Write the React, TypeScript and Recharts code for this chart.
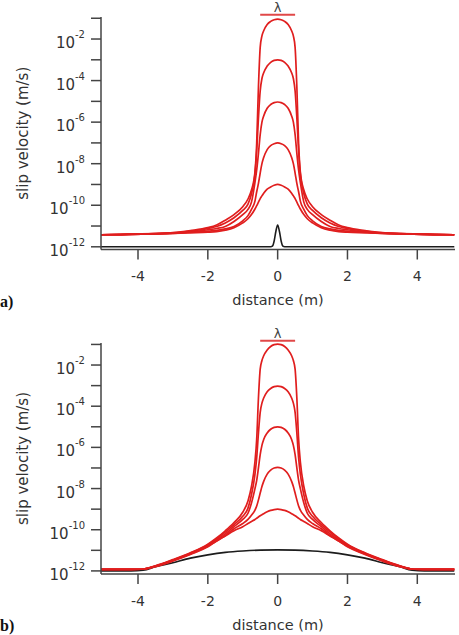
import React from 'react';
import { LineChart, Line, XAxis, YAxis, ReferenceLine } from 'recharts';

// half-profile distances (m); curves are symmetric about x = 0
const halfX = [0, 0.1, 0.2, 0.3, 0.4, 0.45, 0.5, 0.55, 0.6, 0.65, 0.75, 0.85, 1, 1.25, 1.5, 1.75, 2, 2.5, 3, 3.5, 3.9, 4.5, 5.06];

// panel (a): log10 of slip velocity (m/s)
const aRed1 = [-1.04, -1.07, -1.15, -1.3, -1.6, -1.85, -2.4, -4.3, -7.0, -8.4, -9.27, -9.7, -10.07, -10.45, -10.72, -10.95, -11.08, -11.22, -11.32, -11.36, -11.38, -11.4, -11.42];
const aRed2 = [-3.0, -3.03, -3.12, -3.3, -3.62, -3.9, -4.5, -5.8, -7.4, -8.5, -9.45, -9.95, -10.25, -10.6, -10.85, -11.02, -11.12, -11.25, -11.33, -11.37, -11.39, -11.41, -11.42];
const aRed3 = [-5.03, -5.06, -5.15, -5.33, -5.7, -6.0, -6.6, -7.5, -8.3, -8.9, -9.85, -10.2, -10.45, -10.78, -11.02, -11.12, -11.18, -11.28, -11.34, -11.37, -11.39, -11.41, -11.42];
const aRed4 = [-7.0, -7.04, -7.13, -7.32, -7.7, -8.0, -8.45, -8.95, -9.35, -9.8, -10.2, -10.5, -10.75, -11.02, -11.14, -11.21, -11.25, -11.3, -11.35, -11.38, -11.39, -11.41, -11.42];
const aRed5 = [-9.0, -9.04, -9.12, -9.22, -9.42, -9.55, -9.68, -9.85, -10.02, -10.18, -10.45, -10.65, -10.85, -11.08, -11.2, -11.27, -11.3, -11.33, -11.36, -11.38, -11.39, -11.41, -11.42];
const aBlackX = [0, 0.05, 0.1, 0.15, 0.2, 5.06];
const aBlack = [-10.95, -11.25, -11.72, -11.97, -12.0, -12.0];

// panel (b)
const bRed1 = [-0.98, -1.01, -1.1, -1.27, -1.55, -1.78, -2.2, -3.6, -5.6, -6.7, -7.9, -8.6, -9.15, -9.65, -10.05, -10.4, -10.7, -11.12, -11.45, -11.75, -11.92, -11.93, -11.93];
const bRed2 = [-3.02, -3.05, -3.14, -3.3, -3.6, -3.85, -4.3, -5.3, -6.5, -7.3, -8.3, -8.95, -9.35, -9.75, -10.12, -10.45, -10.73, -11.14, -11.47, -11.76, -11.92, -11.93, -11.93];
const bRed3 = [-5.0, -5.03, -5.12, -5.3, -5.62, -5.9, -6.35, -7.0, -7.6, -8.0, -8.7, -9.2, -9.5, -9.85, -10.2, -10.5, -10.76, -11.16, -11.48, -11.77, -11.92, -11.93, -11.93];
const bRed4 = [-6.97, -7.0, -7.1, -7.3, -7.65, -7.9, -8.22, -8.55, -8.85, -9.05, -9.3, -9.5, -9.7, -9.95, -10.28, -10.55, -10.8, -11.18, -11.5, -11.78, -11.92, -11.93, -11.93];
const bRed5 = [-9.0, -9.02, -9.06, -9.13, -9.22, -9.27, -9.32, -9.38, -9.44, -9.5, -9.6, -9.7, -9.85, -10.05, -10.3, -10.55, -10.83, -11.2, -11.52, -11.79, -11.92, -11.93, -11.93];
const bBlackX = [0, 0.5, 1, 1.5, 2, 2.5, 3, 3.5, 3.85, 4.2, 5.06];
const bBlack = [-10.98, -10.99, -11.03, -11.1, -11.22, -11.38, -11.6, -11.8, -11.97, -12.0, -12.0];

const yTickExponents = [-12, -11, -10, -9, -8, -7, -6, -5, -4, -3, -2, -1];
const xTicks = [-4, -2, 0, 2, 4];
const lambdaEnds = [-0.5, 0.5];

const RED = '#e01e1e';
const BLACK = '#1c1c1c';
const AXIS = '#444';
const FONT = 'DejaVu Sans, Verdana, sans-serif';

function mirror(xs: number[], es: number[]) {
  const pts: { x: number; v: number }[] = [];
  for (let i = xs.length - 1; i > 0; i--) pts.push({ x: -xs[i], v: Math.pow(10, es[i]) });
  for (let i = 0; i < xs.length; i++) pts.push({ x: xs[i], v: Math.pow(10, es[i]) });
  return pts;
}

const YTick = (props: any) => {
  const { x, y, payload } = props;
  const e = Math.round(Math.log10(payload.value));
  if (e % 2 !== 0) return <g />;
  return (
    <text x={x} y={y + 9} textAnchor="end" fill="#333" fontFamily={FONT} fontSize={15}>
      <tspan>10</tspan>
      <tspan fontSize={10} dy={-10}>{String(e)}</tspan>
    </text>
  );
};

const YLabel = (props: any) => {
  const vb = props.viewBox || { y: 0, height: 0 };
  const cx = 23;
  const cy = vb.y + vb.height / 2;
  return (
    <text x={cx} y={cy} transform={`rotate(-90, ${cx}, ${cy})`} textAnchor="middle" dominantBaseline="central" fill="#333" fontFamily={FONT} fontSize={15}>
      slip velocity (m/s)
    </text>
  );
};

const XLabel = (props: any) => {
  const vb = props.viewBox || { x: 0, y: 0, width: 0 };
  return (
    <text x={vb.x + vb.width / 2} y={vb.y + 50.5} textAnchor="middle" dominantBaseline="central" fill="#333" fontFamily={FONT} fontSize={14.5}>
      distance (m)
    </text>
  );
};

type PanelProps = {
  top: number;
  height: number;
  marginTop: number;
  marginBottom: number;
  xAxisHeight: number;
  yLoExp: number;
  yHiExp: number;
  reds: { x: number; v: number }[][];
  black: { x: number; v: number }[];
};

function Panel({ top, height, marginTop, marginBottom, xAxisHeight, yLoExp, yHiExp, reds, black }: PanelProps) {
  const lamY = Math.pow(10, yHiExp + 0.11);
  return (
    <div style={{ position: 'absolute', left: 0, top }}>
      <LineChart width={459} height={height} margin={{ top: marginTop, right: 4, bottom: marginBottom, left: 0 }}>
        <XAxis
          type="number"
          dataKey="x"
          domain={[-5.06, 5.08]}
          ticks={xTicks}
          allowDataOverflow
          tickSize={10}
          tickMargin={12}
          height={xAxisHeight}
          stroke={AXIS}
          strokeWidth={1.5}
          tick={{ fill: '#333', fontSize: 14, fontFamily: FONT }}
          label={XLabel}
        />
        <YAxis
          type="number"
          scale="log"
          dataKey="v"
          domain={[Math.pow(10, yLoExp), Math.pow(10, yHiExp)]}
          allowDataOverflow
          ticks={yTickExponents.map((e) => Math.pow(10, e))}
          interval={0}
          width={101}
          tickSize={10}
          tickMargin={6}
          stroke={AXIS}
          strokeWidth={1.5}
          tick={YTick}
          label={YLabel}
        />
        <Line data={black} dataKey="v" type="monotone" stroke={BLACK} strokeWidth={1.6} dot={false} isAnimationActive={false} />
        {reds.map((d, i) => (
          <Line key={i} data={d} dataKey="v" type="monotone" stroke={RED} strokeWidth={1.7} dot={false} isAnimationActive={false} />
        ))}
        <ReferenceLine
          segment={[{ x: lambdaEnds[0], y: lamY }, { x: lambdaEnds[1], y: lamY }]}
          ifOverflow="visible"
          stroke="#e04848"
          strokeWidth={2}
          label={{ value: 'λ', position: 'top', offset: 3, fill: '#444', fontSize: 13, fontFamily: FONT }}
        />
      </LineChart>
    </div>
  );
}

export default function App() {
  const redsA = [aRed1, aRed2, aRed3, aRed4, aRed5].map((es) => mirror(halfX, es));
  const redsB = [bRed1, bRed2, bRed3, bRed4, bRed5].map((es) => mirror(halfX, es));
  const blackA = mirror(aBlackX, aBlack);
  const blackB = mirror(bBlackX, bBlack);
  return (
    <div style={{ position: 'absolute', left: 0, top: 0, width: 459, height: 635, background: '#fff', overflow: 'hidden' }}>
      <Panel top={0} height={325} marginTop={17} marginBottom={15.5} xAxisHeight={60} yLoExp={-12.13} yHiExp={-0.94} reds={redsA} black={blackA} />
      <Panel top={325} height={310} marginTop={18} marginBottom={11} xAxisHeight={50} yLoExp={-12.15} yHiExp={-0.93} reds={redsB} black={blackB} />
      <svg width={459} height={635} style={{ position: 'absolute', left: 0, top: 0, pointerEvents: 'none' }}>
        <text x={0} y={307} fontFamily="Liberation Serif, Times New Roman, serif" fontWeight="bold" fontSize={16} fill="#111">a)</text>
        <text x={0} y={631} fontFamily="Liberation Serif, Times New Roman, serif" fontWeight="bold" fontSize={16} fill="#111">b)</text>
      </svg>
    </div>
  );
}
